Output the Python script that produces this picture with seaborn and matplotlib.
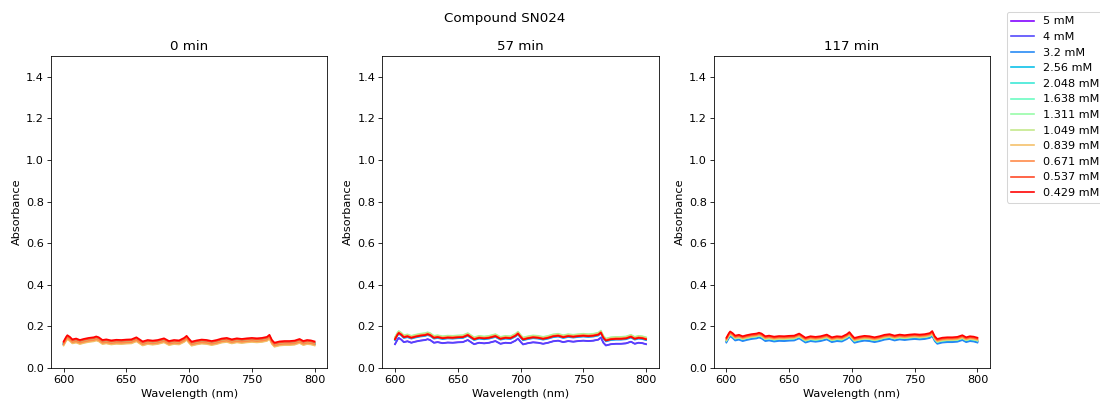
import numpy as np
import pandas as pd
import matplotlib
matplotlib.use("Agg")
import matplotlib.pyplot as plt
import seaborn as sns

wavelengths = [600, 602, 603, 605, 607, 610, 613, 616, 620, 624, 626, 628, 631, 634,
               638, 642, 646, 650, 654, 658, 660, 663, 667, 671, 675, 680, 684, 688,
               692, 696, 698, 700, 702, 706, 710, 714, 718, 722, 726, 730, 734, 738,
               742, 746, 750, 754, 758, 762, 764, 766, 768, 772, 776, 780, 784, 788,
               791, 794, 797, 800]
base_spectrum = [0.128, 0.150, 0.158, 0.150, 0.138, 0.142, 0.135, 0.140, 0.145, 0.148,
                 0.152, 0.148, 0.135, 0.138, 0.133, 0.136, 0.135, 0.137, 0.138, 0.148,
                 0.140, 0.128, 0.135, 0.132, 0.135, 0.143, 0.130, 0.135, 0.133, 0.145,
                 0.155, 0.140, 0.127, 0.133, 0.137, 0.135, 0.130, 0.135, 0.142, 0.145,
                 0.138, 0.143, 0.140, 0.143, 0.145, 0.143, 0.145, 0.150, 0.160, 0.135,
                 0.122, 0.128, 0.130, 0.130, 0.132, 0.140, 0.130, 0.135, 0.133, 0.128]

concentrations = ["5 mM", "4 mM", "3.2 mM", "2.56 mM", "2.048 mM", "1.638 mM",
                  "1.311 mM", "1.049 mM", "0.839 mM", "0.671 mM", "0.537 mM", "0.429 mM"]
times = ["0 min", "57 min", "117 min"]

# level shift of each concentration relative to the base spectrum, per time point
offsets_0min = [-0.012, -0.013, -0.012, -0.010, -0.008, -0.006,
                -0.010, -0.018, -0.020, -0.014, -0.005, 0.000]
offsets_57min = [-0.013, -0.014, 0.006, 0.008, 0.012, 0.016,
                 0.020, 0.018, 0.014, 0.012, 0.011, 0.010]
offsets_117min = [-0.001, -0.002, -0.006, 0.002, 0.003, 0.004,
                  0.004, 0.005, 0.007, 0.010, 0.014, 0.018]
offsets = {"0 min": offsets_0min, "57 min": offsets_57min, "117 min": offsets_117min}

rows = []
for t in times:
    for conc, off in zip(concentrations, offsets[t]):
        for wl, a in zip(wavelengths, base_spectrum):
            rows.append({"time": t, "conc": conc, "wavelength": wl, "absorbance": a + off})
df = pd.DataFrame(rows)

palette = [plt.cm.rainbow(x) for x in np.linspace(0, 1, len(concentrations))]

plt.rcParams["font.size"] = 11

fig, axes = plt.subplots(1, 3, figsize=(15, 403 / (1100 / 15)), dpi=1100 / 15)
fig.subplots_adjust(left=0.0464, right=0.9, top=0.861, bottom=0.0868, wspace=0.2)

for ax, t in zip(axes, times):
    sns.lineplot(data=df[df["time"] == t], x="wavelength", y="absorbance",
                 hue="conc", hue_order=concentrations, palette=palette,
                 linewidth=1.6, legend=False, ax=ax)
    ax.set_ylim(0, 1.5)
    ax.set_yticks(np.arange(0, 1.41, 0.2))
    ax.set_xticks([600, 650, 700, 750, 800])
    ax.set_title(t)
    ax.set_xlabel("Wavelength (nm)")
    ax.set_ylabel("Absorbance")

handles = axes[0].get_lines()[:len(concentrations)]
fig.legend(handles, concentrations, loc="upper left",
           bbox_to_anchor=(1007 / 1100, 1 - 12 / 403), borderaxespad=0)
fig.suptitle("Compound SN024", x=505 / 1100, y=1 - 12 / 403)

fig.savefig("out.png", dpi=1100 / 15)
